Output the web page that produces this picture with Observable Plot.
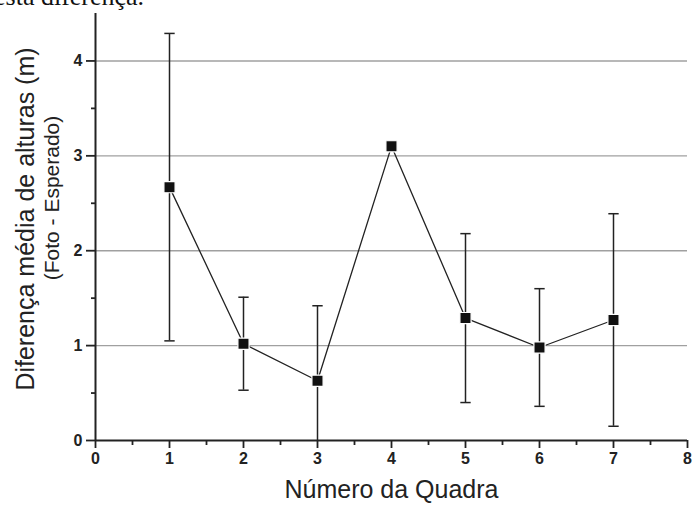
<!DOCTYPE html>
<html>
<head>
<meta charset="utf-8">
<script src="https://cdn.jsdelivr.net/npm/d3@7"></script>
<script src="https://cdn.jsdelivr.net/npm/@observablehq/plot@0.6"></script>
<style>
  html, body { margin: 0; padding: 0; background: #fff; }
  #wrap { position: relative; width: 694px; height: 506px; overflow: hidden; }
  #top { position: absolute; left: -6px; top: -18px; line-height: 30px; font-family: "Liberation Serif", serif; font-size: 26px; color: #111; white-space: nowrap; z-index: 2; }
</style>
</head>
<body>
<div id="wrap"><div id="top">esta diferença.</div></div>
<script>
const quadras = [1, 2, 3, 4, 5, 6, 7];
const diferencas = [2.67, 1.02, 0.63, 3.10, 1.29, 0.98, 1.27];
const erros = [1.62, 0.49, 0.79, 0, 0.89, 0.62, 1.12];
const xTicks = [0, 1, 2, 3, 4, 5, 6, 7, 8];
const yTicks = [0, 1, 2, 3, 4];
const xLabel = "Número da Quadra";
const yLabel = "Diferença média de alturas (m)";
const ySubLabel = "(Foto - Esperado)";

const data = quadras.map((q, i) => ({x: q, y: diferencas[i], e: erros[i]}));
const withErr = data.filter(d => d.e > 0);
const cap = 0.07;

const chart = Plot.plot({
  width: 694,
  height: 506,
  marginLeft: 95,
  marginRight: 7,
  marginTop: 13,
  marginBottom: 66,
  style: {fontFamily: "'Liberation Sans', Arial, sans-serif", background: "transparent", color: "#222"},
  x: {domain: [0, 8]},
  y: {domain: [0, 4.5]},
  marks: [
    Plot.ruleY(yTicks.filter(v => v > 0), {stroke: "#a0a0a0", strokeWidth: 1.4}),
    Plot.ruleX(withErr, {x: "x", y1: d => d.y - d.e, y2: d => d.y + d.e, stroke: "#222", strokeWidth: 1.5, clip: true}),
    Plot.link(withErr, {x1: d => d.x - cap, x2: d => d.x + cap, y1: d => d.y + d.e, y2: d => d.y + d.e, stroke: "#222", strokeWidth: 1.5, clip: true}),
    Plot.link(withErr, {x1: d => d.x - cap, x2: d => d.x + cap, y1: d => d.y - d.e, y2: d => d.y - d.e, stroke: "#222", strokeWidth: 1.5, clip: true}),
    Plot.line(data, {x: "x", y: "y", stroke: "#222", strokeWidth: 1.3}),
    Plot.dot(data, {x: "x", y: "y", symbol: "square", r: 6.3, fill: "#111", stroke: "white", strokeWidth: 1.2}),
    Plot.axisX({ticks: xTicks, tickFormat: "d", tickSize: 8, tickPadding: 4, fontSize: 16, fontWeight: "bold", strokeWidth: 1.8, label: null}),
    Plot.axisX({ticks: d3.range(0.5, 8, 1), tickSize: 5, tickFormat: () => "", strokeWidth: 1.8, label: null}),
    Plot.axisY({ticks: yTicks, tickFormat: "d", tickSize: 9, tickPadding: 4, fontSize: 16, fontWeight: "bold", strokeWidth: 1.8, label: null}),
    Plot.axisY({ticks: d3.range(0.5, 4.5, 1), tickSize: 4, tickFormat: () => "", strokeWidth: 1.8, label: null}),
    Plot.ruleX([0], {stroke: "#222", strokeWidth: 2}),
    Plot.ruleY([0], {stroke: "#222", strokeWidth: 2}),
    Plot.text([xLabel], {frameAnchor: "bottom", dy: 57, fontSize: 25, fill: "#222"}),
    Plot.text([yLabel], {frameAnchor: "left", textAnchor: "middle", rotate: -90, dx: -70, dy: -8, fontSize: 25, fill: "#222"}),
    Plot.text([ySubLabel], {frameAnchor: "left", textAnchor: "middle", rotate: -90, dx: -43, dy: -29, fontSize: 21, fill: "#222"})
  ]
});
document.getElementById("wrap").appendChild(chart);
</script>
</body>
</html>
